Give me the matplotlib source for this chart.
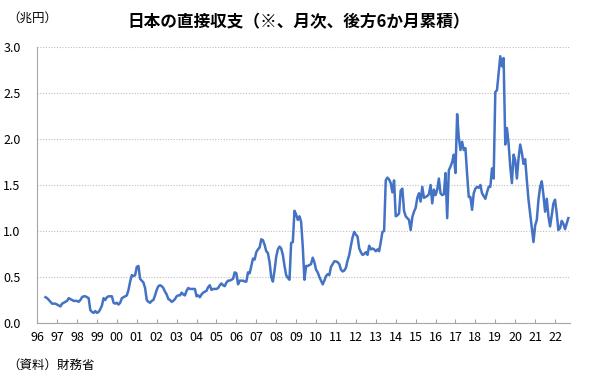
import numpy as np
import matplotlib
matplotlib.use('Agg')
import matplotlib.pyplot as plt

plt.rcParams['font.family'] = ['Noto Sans CJK JP', 'DejaVu Sans']

# 日本の直接投資収支 (6か月累積, 兆円), monthly from 1996-06 to 2022-09
start_year = 1996
start_month = 6
values = [
    # 1996 (Jun-Dec)
    0.28, 0.27, 0.25, 0.23, 0.21, 0.21, 0.21,
    # 1997
    0.20, 0.19, 0.18, 0.21, 0.22, 0.23, 0.24, 0.27, 0.26, 0.25, 0.24, 0.24,
    # 1998
    0.24, 0.23, 0.25, 0.28, 0.29, 0.29, 0.28, 0.27, 0.14, 0.12, 0.11, 0.13,
    # 1999
    0.11, 0.12, 0.15, 0.19, 0.27, 0.25, 0.28, 0.29, 0.29, 0.29, 0.22, 0.21,
    # 2000
    0.22, 0.20, 0.22, 0.27, 0.28, 0.29, 0.30, 0.36, 0.45, 0.52, 0.51, 0.52,
    # 2001
    0.61, 0.62, 0.48, 0.46, 0.44, 0.38, 0.25, 0.23, 0.22, 0.24, 0.25, 0.30,
    # 2002
    0.36, 0.40, 0.41, 0.40, 0.38, 0.34, 0.31, 0.26, 0.25, 0.23, 0.24, 0.26,
    # 2003
    0.29, 0.30, 0.30, 0.33, 0.31, 0.30, 0.35, 0.38, 0.37, 0.37, 0.37, 0.37,
    # 2004
    0.29, 0.30, 0.28, 0.31, 0.33, 0.34, 0.35, 0.39, 0.41, 0.36, 0.37, 0.37,
    # 2005
    0.37, 0.38, 0.41, 0.43, 0.41, 0.40, 0.44, 0.46, 0.46, 0.47, 0.48, 0.55,
    # 2006
    0.54, 0.42, 0.46, 0.46, 0.46, 0.45, 0.45, 0.55, 0.54, 0.62, 0.70, 0.69,
    # 2007
    0.77, 0.80, 0.82, 0.91, 0.90, 0.85, 0.78, 0.76, 0.66, 0.50, 0.45, 0.57,
    # 2008
    0.72, 0.80, 0.83, 0.81, 0.74, 0.62, 0.52, 0.49, 0.47, 0.87, 0.88, 1.22,
    # 2009
    1.18, 1.12, 1.16, 1.10, 0.83, 0.47, 0.62, 0.62, 0.63, 0.64, 0.71, 0.66,
    # 2010
    0.58, 0.55, 0.50, 0.46, 0.42, 0.46, 0.51, 0.53, 0.52, 0.61, 0.64, 0.67,
    # 2011
    0.67, 0.66, 0.64, 0.58, 0.56, 0.57, 0.60, 0.68, 0.74, 0.84, 0.93, 0.99,
    # 2012
    0.96, 0.94, 0.81, 0.77, 0.74, 0.75, 0.77, 0.74, 0.84, 0.80, 0.81, 0.80,
    # 2013
    0.78, 0.80, 0.78, 0.88, 0.99, 1.00, 1.55, 1.58, 1.56, 1.52, 1.42, 1.55,
    # 2014
    1.16, 1.17, 1.19, 1.44, 1.46, 1.22, 1.16, 1.14, 1.12, 1.01, 1.15, 1.21,
    # 2015
    1.25, 1.36, 1.41, 1.32, 1.48, 1.36, 1.37, 1.38, 1.40, 1.50, 1.30, 1.45,
    # 2016
    1.39, 1.45, 1.57, 1.41, 1.39, 1.40, 1.63, 1.14, 1.66, 1.70, 1.75, 1.83,
    # 2017
    1.63, 2.27, 2.02, 1.88, 1.97, 1.88, 1.90, 1.62, 1.37, 1.37, 1.23, 1.41,
    # 2018
    1.46, 1.48, 1.47, 1.50, 1.41, 1.38, 1.35, 1.42, 1.48, 1.48, 1.68, 1.57,
    # 2019
    2.51, 2.53, 2.71, 2.90, 2.79, 2.88, 1.94, 2.12, 1.95, 1.70, 1.52, 1.83,
    # 2020
    1.77, 1.57, 1.79, 1.94, 1.85, 1.73, 1.78, 1.55, 1.34, 1.19, 1.05, 0.88,
    # 2021
    1.06, 1.12, 1.34, 1.48, 1.54, 1.39, 1.21, 1.35, 1.16, 1.05, 1.17, 1.30,
    # 2022 (Jan-Sep)
    1.34, 1.19, 1.01, 1.03, 1.11, 1.08, 1.02, 1.08, 1.14,
]

year_ticks = list(range(1996, 2023))
year_labels = [f'{y % 100:02d}' for y in year_ticks]
y_ticks = [0.0, 0.5, 1.0, 1.5, 2.0, 2.5, 3.0]

# Fractional year position of each month
months = np.arange(len(values)) + (start_month - 1)
x = start_year + months / 12.0

fig = plt.figure(figsize=(6.0, 3.76), dpi=100)
ax = fig.add_axes([0.062, 0.141, 0.888, 0.734])

ax.plot(x, values, color='#4472C4', linewidth=1.8, solid_joinstyle='round')

ax.set_xlim(1996, 2022.75)
ax.set_ylim(0, 3.0)
ax.set_xticks(year_ticks)
ax.set_xticklabels(year_labels, fontsize=9)
ax.set_yticks(y_ticks)
ax.set_yticklabels([f'{v:.1f}' for v in y_ticks], fontsize=9)

ax.tick_params(axis='x', direction='in', length=3, color='#A6A6A6', pad=6)
ax.tick_params(axis='y', length=0, pad=12)

for side in ['top', 'right']:
    ax.spines[side].set_visible(False)
for side in ['left', 'bottom']:
    ax.spines[side].set_color('#A6A6A6')
    ax.spines[side].set_linewidth(0.8)

ax.yaxis.grid(True, linestyle=(0, (1, 1.5)), color='#BFBFBF', linewidth=0.8)
ax.set_axisbelow(True)

fig.text(0.497, 0.942, '日本の直接収支（※、月次、後方6か月累積）',
         ha='center', va='center', fontsize=12, fontweight='bold')
fig.text(0.012, 0.952, '（兆円）', ha='left', va='center', fontsize=9)
fig.text(0.012, 0.028, '（資料）財務省', ha='left', va='center', fontsize=9)

plt.savefig('out.png', dpi=100)
plt.close(fig)
